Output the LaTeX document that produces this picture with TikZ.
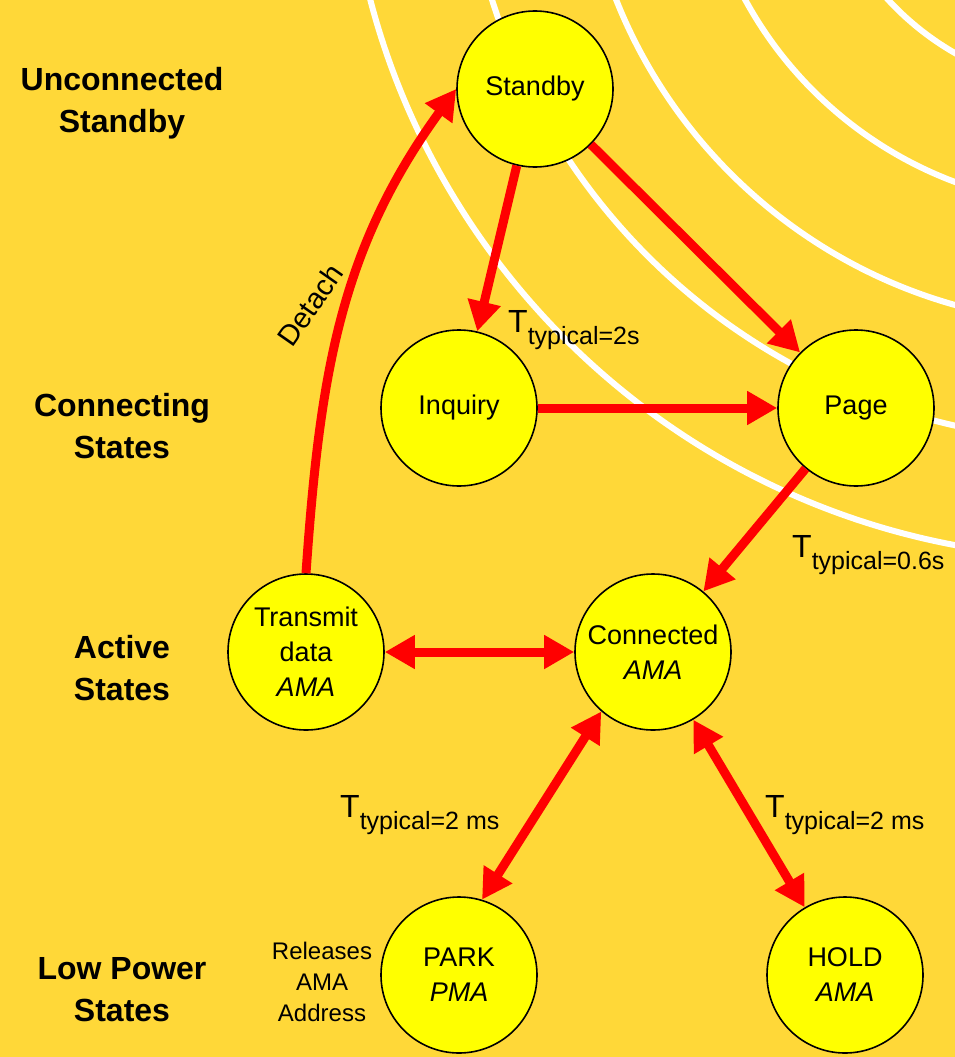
\documentclass[tikz,border=0pt]{standalone}
\usepackage{fontspec}
\setmainfont{Liberation Sans}
\usetikzlibrary{arrows.meta,automata,positioning}

\definecolor{bggold}{RGB}{255,216,56}
\definecolor{stateyellow}{RGB}{255,255,0}

\newcommand{\ttyp}[1]{T\raisebox{-12pt}{\fontsize{25}{25}\selectfont typical=#1}}

\begin{document}
\begin{tikzpicture}[x=1pt,y=1pt,>={Triangle[length=30pt,width=32pt]}]

\tikzstyle{every state}=[fill=stateyellow,draw=black,line width=1.6pt,minimum size=156pt,inner sep=0pt,align=center,text=black,font=\fontsize{27}{35}\selectfont]
\tikzstyle{levellabel}=[align=center,font=\fontsize{32}{42}\selectfont\bfseries]
\tikzstyle{timing}=[anchor=base west,inner sep=0pt,font=\fontsize{32}{32}\selectfont]
\tikzstyle{trans}=[red,line width=9pt]
\tikzstyle{wave}=[draw=white,line width=6pt]

%background and radio waves
\fill [bggold] (0,0) rectangle (955,-1057);
\useasboundingbox (0,0) rectangle (955,-1057);
\begin{scope}
\clip (0,0) rectangle (955,-1057);
\foreach \r in {280,397,514,631,748}
  \draw [wave] (1094,190) circle (\r pt);
\end{scope}

%levels
\node [levellabel] (lunconn) at (122,-103) {Unconnected\\Standby};
\node [levellabel] (lconn) at (122,-426) {Connecting\\States};
\node [levellabel] (lactive) at (122,-668) {Active\\States};
\node [levellabel] (llow) at (122,-990) {Low Power\\States};

%states
\node [state] (standby) at (535,-89) {Standby};
\node [state] (inquiry) at (459,-408) {Inquiry};
\node [state] (page) at (856,-408) {Page};
\node [state] (transmit) at (306,-652) {Transmit\\data\\\textit{AMA}};
\node [state] (connected) at (653,-652) {Connected\\\textit{AMA}};
\node [state] (park) at (459,-975) {PARK\\\textit{PMA}};
\node [state] (hold) at (845,-975) {HOLD\\\textit{AMA}};

\node [align=center,font=\fontsize{24}{31}\selectfont] (release) at (322,-982) {Releases\\AMA\\Address};

\path [trans,->] (standby) edge (inquiry)
      [trans,->] (standby) edge (page)
      [trans,->] (inquiry) edge (page)
      [trans,->] (page) edge (connected)
      [trans,<->] (transmit) edge (connected)
      [trans,<->] (connected.229) edge (park.73)
      [trans,<->] (connected) edge (hold)
      [trans,->] (transmit.north) edge [out=86,in=234] (standby.west);

\node [rotate=55,font=\fontsize{29}{29}\selectfont] (detach) at (310,-305) {Detach};

%timings
\node [timing] (tinq) at (508,-332) {\ttyp{2s}};
\node [timing] (tpage) at (792,-557) {\ttyp{0.6s}};
\node [timing] (tpark) at (340,-817) {\ttyp{2 ms}};
\node [timing] (thold) at (765,-817) {\ttyp{2 ms}};

\end{tikzpicture}
\end{document}
